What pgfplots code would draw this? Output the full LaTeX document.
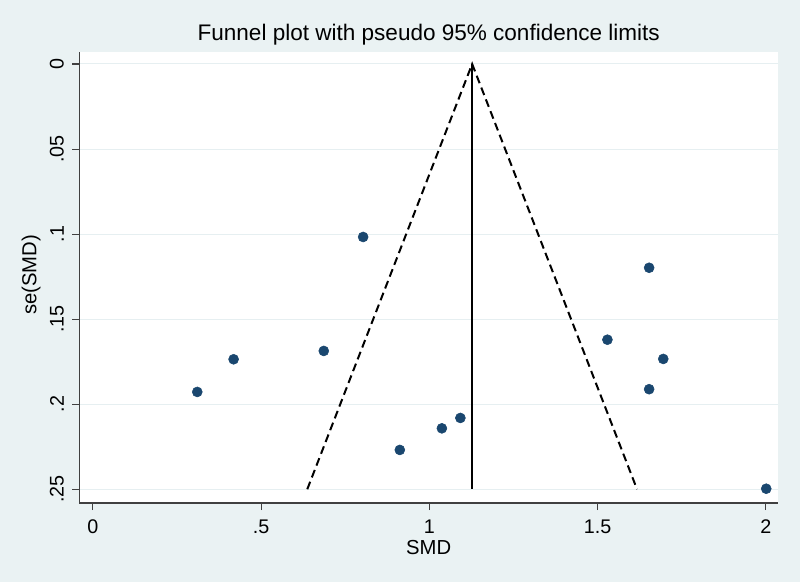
\documentclass[border=0pt]{standalone}
\usepackage{fontspec}
\setmainfont{Liberation Sans}
\usepackage{pgfplots}
\pgfplotsset{compat=1.18}
\definecolor{bgc}{RGB}{234,242,243}
\definecolor{navy}{RGB}{26,71,111}
\definecolor{gridc}{RGB}{230,239,241}
\begin{document}
\begin{tikzpicture}[x=1pt,y=1pt]
\fill[bgc] (0,0) rectangle (600,436.5);
\begin{axis}[
  at={(59.6pt,397.5pt)}, anchor=north west,
  scale only axis, width=523.9pt, height=338.25pt,
  xmin=-0.0401, xmax=2.036, ymin=-0.00705, ymax=0.2581,
  y dir=reverse,
  axis x line*=bottom, axis y line*=left,
  axis line style={black!75, line width=0.8pt, -},
  xtick={0,0.5,1,1.5,2}, xticklabels={0,.5,1,1.5,2},
  ytick={0,0.05,0.1,0.15,0.2,0.25}, yticklabels={0,.05,.1,.15,.2,.25},
  tick align=outside, major tick length=5.25pt,
  tick style={black!75, line width=0.8pt},
  ymajorgrids, grid style={gridc, line width=0.75pt},
  axis background/.style={fill=white},
  tick label style={font=\fontsize{14.8}{16}\selectfont},
  xticklabel style={yshift=-4pt},
  yticklabel style={xshift=-3pt, rotate=90, anchor=south},
  label style={font=\fontsize{15.2}{16}\selectfont},
  xlabel style={yshift=2.2pt},
  ylabel style={xshift=2pt},
  xlabel={SMD}, ylabel={se(SMD)},
  title={Funnel plot with pseudo 95\% confidence limits},
  title style={font=\fontsize{16.9}{18}\selectfont, yshift=-4.5pt},
  clip=false,
]
\addplot[black, line width=1.4pt] coordinates {(1.127,0) (1.127,0.25)};
\addplot[black, line width=1.5pt, dash pattern=on 6pt off 3.5pt] coordinates {(0.637,0.25) (1.127,0) (1.617,0.25)};
\addplot[only marks, mark=*, mark size=3.75pt, mark options={draw=navy, fill=navy}] coordinates {
(0.310,0.1928) (0.418,0.1736) (0.686,0.1687) (0.803,0.1017)
(0.912,0.2269) (1.037,0.2142) (1.092,0.2081) (1.529,0.1621)
(1.653,0.1198) (1.695,0.1734) (1.653,0.1912) (2.001,0.2497)
};
\end{axis}
\end{tikzpicture}
\end{document}
